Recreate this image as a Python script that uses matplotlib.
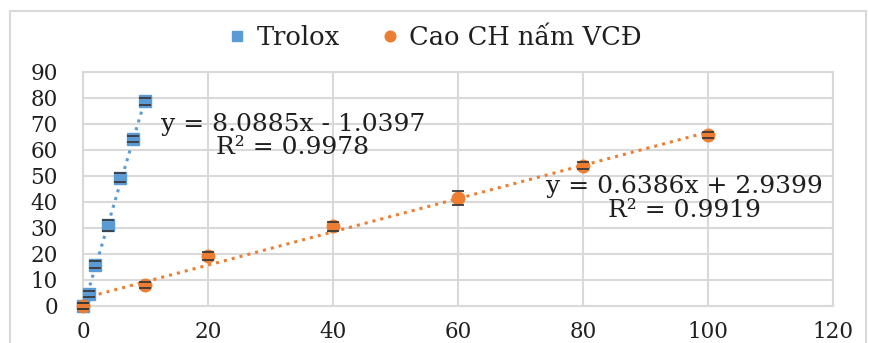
#!/usr/bin/env python3
"""Trolox vs Cao CH nam VCD linear calibration scatter."""

import matplotlib
matplotlib.use("Agg")
import matplotlib.pyplot as plt
import numpy as np
from matplotlib.patches import Rectangle

# Data
trolox_x = [0, 1, 2, 4, 6, 8, 10]
trolox_y = [0, 4.6, 15.8, 31.0, 49.3, 64.2, 78.6]
trolox_err = [1.0, 1.2, 1.3, 2.2, 1.8, 1.2, 1.2]

cao_x = [0, 10, 20, 40, 60, 80, 100]
cao_y = [0, 8.2, 19.2, 30.6, 41.5, 53.9, 65.7]
cao_err = [1.2, 1.2, 1.5, 1.6, 2.6, 1.3, 1.3]

trolox_fit = (8.0885, -1.0397)
cao_fit = (0.6386, 2.9399)
trolox_r2 = 0.9978
cao_r2 = 0.9919

labels = ["Trolox", "Cao CH nấm VCĐ"]

BLUE = "#5b9bd5"
ORANGE = "#ed7d31"
GRID = "#d9d9d9"
TEXT = "#1f1f1f"

plt.rcParams["font.family"] = ["DejaVu Serif"]

fig = plt.figure(figsize=(8.7, 3.43), dpi=100)
ax = fig.add_axes([0.0954, 0.1079, 0.862, 0.683])

# chart border
fig.patches.append(Rectangle((10 / 870, -0.05), 856 / 870, 1.05 - 11.5 / 343,
                             transform=fig.transFigure, fill=False,
                             edgecolor=GRID, linewidth=1.5))

# trendlines
tx = np.array([min(trolox_x), max(trolox_x)])
ax.plot(tx, trolox_fit[0] * tx + trolox_fit[1], ls=":", lw=2.2, color=BLUE, zorder=2)
cx = np.array([min(cao_x), max(cao_x)])
ax.plot(cx, cao_fit[0] * cx + cao_fit[1], ls=":", lw=2.2, color=ORANGE, zorder=2)

# error bars (caps drawn over the markers, bars under them)
for xs, ys, es in ((trolox_x, trolox_y, trolox_err), (cao_x, cao_y, cao_err)):
    eb = ax.errorbar(xs, ys, yerr=es, fmt="none", ecolor="#3a3a3a",
                     elinewidth=1, capsize=4.5, capthick=1.3, zorder=3)
    for art in eb.lines[1]:
        art.set_clip_on(False)
        art.set_zorder(5)
    for art in eb.lines[2]:
        art.set_clip_on(False)
ax.plot(trolox_x, trolox_y, ls="none", marker="s", ms=8.5, color=BLUE,
        label=labels[0], zorder=4, clip_on=False)
ax.plot(cao_x, cao_y, ls="none", marker="o", ms=9, color=ORANGE,
        label=labels[1], zorder=4, clip_on=False)

ax.set_xlim(0, 120)
ax.set_ylim(0, 90)
ax.set_xticks(range(0, 121, 20))
ax.set_yticks(range(0, 91, 10))
ax.grid(True, color=GRID, linewidth=1.5)
ax.set_axisbelow(True)
for s in ax.spines.values():
    s.set_color(GRID)
    s.set_linewidth(1.5)
ax.tick_params(length=0, labelsize=15.5, colors=TEXT)
ax.tick_params(axis="x", pad=11)
ax.tick_params(axis="y", pad=18)

# trendline equations
ax.text(33.6, 69.8, f"y = {trolox_fit[0]:.4f}x - {abs(trolox_fit[1]):.4f}",
        ha="center", va="center", fontsize=18, color=TEXT)
ax.text(33.6, 60.8, f"R² = {trolox_r2:.4f}", ha="center", va="center",
        fontsize=18, color=TEXT)
ax.text(96.3, 45.8, f"y = {cao_fit[0]:.4f}x + {cao_fit[1]:.4f}",
        ha="center", va="center", fontsize=18, color=TEXT)
ax.text(96.3, 36.5, f"R² = {cao_r2:.4f}", ha="center", va="center",
        fontsize=18, color=TEXT)

fig.legend(loc="center", bbox_to_anchor=(0.5, 0.892), ncol=2, frameon=False,
           fontsize=18.5, handlelength=0.7, handletextpad=0.4, columnspacing=1.6,
           markerscale=0.85, labelcolor=TEXT)

fig.savefig("out.png", dpi=100)
